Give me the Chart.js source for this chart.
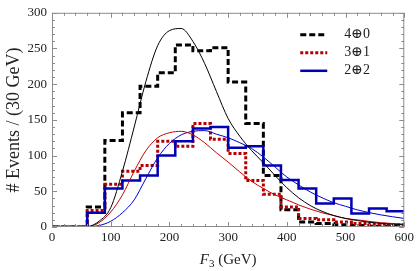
<!DOCTYPE html>
<html>
<head>
<meta charset="utf-8">
<script src="https://cdn.jsdelivr.net/npm/chart.js@4.4.1/dist/chart.umd.min.js"></script>
<style>
html,body{margin:0;padding:0;background:#fff}
</style>
</head>
<body>
<canvas id="myChart" width="417" height="271"></canvas>
<script>
// bins are 30 GeV wide, left edges
const binWidth = 30
const binEdges = [0,30,60,90,120,150,180,210,240,270,300,330,360,390,420,450,480,510,540,570]
const hist40 = [0,0,28,121,160,197,216,255,247,251,203,145,72,24,7,5,3,2,1,1]
const hist31 = [0,0,23,60,78,86,120,113,145,123,103,65,46,28,12,10,7,5,4,3]
const hist22 = [0,0,20,54,65,72,100,120,138,140,111,113,86,66,54,33,40,19,26,22]

// smooth curves
const curveX = [0,40,60,80,100,120,140,160,180,200,220,240,260,280,300,320,340,360,380,400,420,440,460,480,500,520,560,600]
const fit40 = [0,0,0.5,8,27,78,140,204,254,275,278,260,229,190,152,127,107,90,72,55,41,30,22,16,12,9,5,3]
const fit31 = [0,0,0.3,6,21,45,78,107,125,132,134,129,118,104,91,77,64,54,45,38,31,25,20,16,12,10,6,4]
const fit22 = [0,0,0,2,8,20,38,68,97,117,129,134,135,130,125,118,110,98,84,70,59,49,41,34,29,24,17,12]

const legendLabels = ['4\u22950', '3\u22951', '2\u22952']

const serif = '"Liberation Serif", "DejaVu Serif", serif'
const frameColor = '#8c8c8c'

function histPoints(vals) {
  const pts = binEdges.map((e, i) => ({x: e, y: vals[i]}))
  pts.push({x: binEdges[binEdges.length - 1] + binWidth, y: vals[vals.length - 1]})
  return pts
}
function curvePoints(vals) {
  return curveX.map((x, i) => ({x: x, y: vals[i]}))
}

const curveStyle = {pointRadius: 0, borderWidth: 1, fill: false, cubicInterpolationMode: 'monotone'}
const histStyle = {pointRadius: 0, fill: false, stepped: true, borderJoinStyle: 'miter'}

const myData = {
  datasets: [
    {...curveStyle, label: 'fit40', data: curvePoints(fit40), borderColor: '#000'},
    {...curveStyle, label: 'fit31', data: curvePoints(fit31), borderColor: '#c80000'},
    {...curveStyle, label: 'fit22', data: curvePoints(fit22), borderColor: '#0000d0'},
    {...histStyle, label: legendLabels[2], data: histPoints(hist22), borderColor: '#0000b4', borderWidth: 2.5, legend: 2},
    {...histStyle, label: legendLabels[1], data: histPoints(hist31), borderColor: '#b40000', borderWidth: 3, borderDash: [3, 2], legend: 1},
    {...histStyle, label: legendLabels[0], data: histPoints(hist40), borderColor: '#000', borderWidth: 3, borderDash: [6, 3], legend: 0}
  ]
}

// frame with inward ticks on all four sides, like the original
const frameTicks = {
  id: 'frameTicks',
  afterDatasetsDraw(chart) {
    const {ctx, chartArea: a, scales: {x, y}} = chart
    ctx.save()
    ctx.strokeStyle = frameColor
    ctx.lineWidth = 1
    ctx.strokeRect(a.left + 0.5, a.top + 0.5, a.right - a.left - 1, a.bottom - a.top - 1)
    ctx.beginPath()
    for (let v = 0; v <= 600; v += 20) {
      const px = Math.round(x.getPixelForValue(v)) + 0.5
      const len = v % 100 === 0 ? 5 : 3
      ctx.moveTo(px, a.bottom); ctx.lineTo(px, a.bottom - len)
      ctx.moveTo(px, a.top); ctx.lineTo(px, a.top + len)
    }
    for (let v = 0; v <= 300; v += 10) {
      const py = Math.round(y.getPixelForValue(v)) + 0.5
      const len = v % 50 === 0 ? 5 : 3
      ctx.moveTo(a.left, py); ctx.lineTo(a.left + len, py)
      ctx.moveTo(a.right, py); ctx.lineTo(a.right - len, py)
    }
    ctx.stroke()
    ctx.restore()
  }
}

// line-sample legend in the top right corner
const lineLegend = {
  id: 'lineLegend',
  afterDatasetsDraw(chart) {
    const {ctx, chartArea: a} = chart
    ctx.save()
    chart.data.datasets.forEach(ds => {
      if (ds.legend === undefined) return
      const yy = a.top + 22 + ds.legend * 18
      ctx.strokeStyle = ds.borderColor
      ctx.lineWidth = ds.borderWidth
      ctx.setLineDash(ds.borderDash || [])
      ctx.beginPath()
      ctx.moveTo(a.right - 104, yy)
      ctx.lineTo(a.right - 77, yy)
      ctx.stroke()
      ctx.setLineDash([])
      ctx.fillStyle = '#222'
      ctx.font = '14px ' + serif
      ctx.textBaseline = 'middle'
      ctx.fillText(ds.label, a.right - 60, yy)
    })
    ctx.restore()
  }
}

// x title with italic F and subscript 3
const xTitle = {
  id: 'xTitle',
  afterDraw(chart) {
    const {ctx, chartArea: a} = chart
    const f1 = 'italic 15px ' + serif, f2 = '11px ' + serif, f3 = '15px ' + serif
    ctx.save()
    ctx.fillStyle = '#222'
    ctx.textBaseline = 'alphabetic'
    ctx.font = f1; const w1 = ctx.measureText('F').width
    ctx.font = f2; const w2 = ctx.measureText('3').width
    ctx.font = f3; const w3 = ctx.measureText(' (GeV)').width
    let xx = (a.left + a.right) / 2 - (w1 + w2 + w3) / 2
    const base = 264
    ctx.font = f1; ctx.fillText('F', xx, base); xx += w1
    ctx.font = f2; ctx.fillText('3', xx, base + 3); xx += w2
    ctx.font = f3; ctx.fillText(' (GeV)', xx, base)
    ctx.restore()
  }
}

const myConfig = {
  type: 'line',
  data: myData,
  options: {
    responsive: false,
    animation: false,
    devicePixelRatio: 1,
    layout: {padding: {top: 7, right: 10, left: 0, bottom: 0}},
    scales: {
      x: {
        type: 'linear', min: 0, max: 600,
        grid: {display: false, drawTicks: false},
        border: {display: false},
        ticks: {stepSize: 100, color: '#222', font: {family: serif, size: 13}, padding: 3, maxRotation: 0},
        afterFit(scale) { scale.height = 44 }
      },
      y: {
        min: 0, max: 300,
        grid: {display: false, drawTicks: false},
        border: {display: false},
        ticks: {stepSize: 50, color: '#222', font: {family: serif, size: 13}, padding: 5},
        title: {display: true, text: '# Events / (30 GeV)', color: '#222', font: {family: serif, size: 18}, padding: {top: 3, bottom: 0}},
        afterFit(scale) { scale.width = 52 }
      }
    },
    plugins: {legend: {display: false}, tooltip: {enabled: false}}
  },
  plugins: [frameTicks, lineLegend, xTitle]
}

new Chart(document.getElementById('myChart'), myConfig)
</script>
</body>
</html>
